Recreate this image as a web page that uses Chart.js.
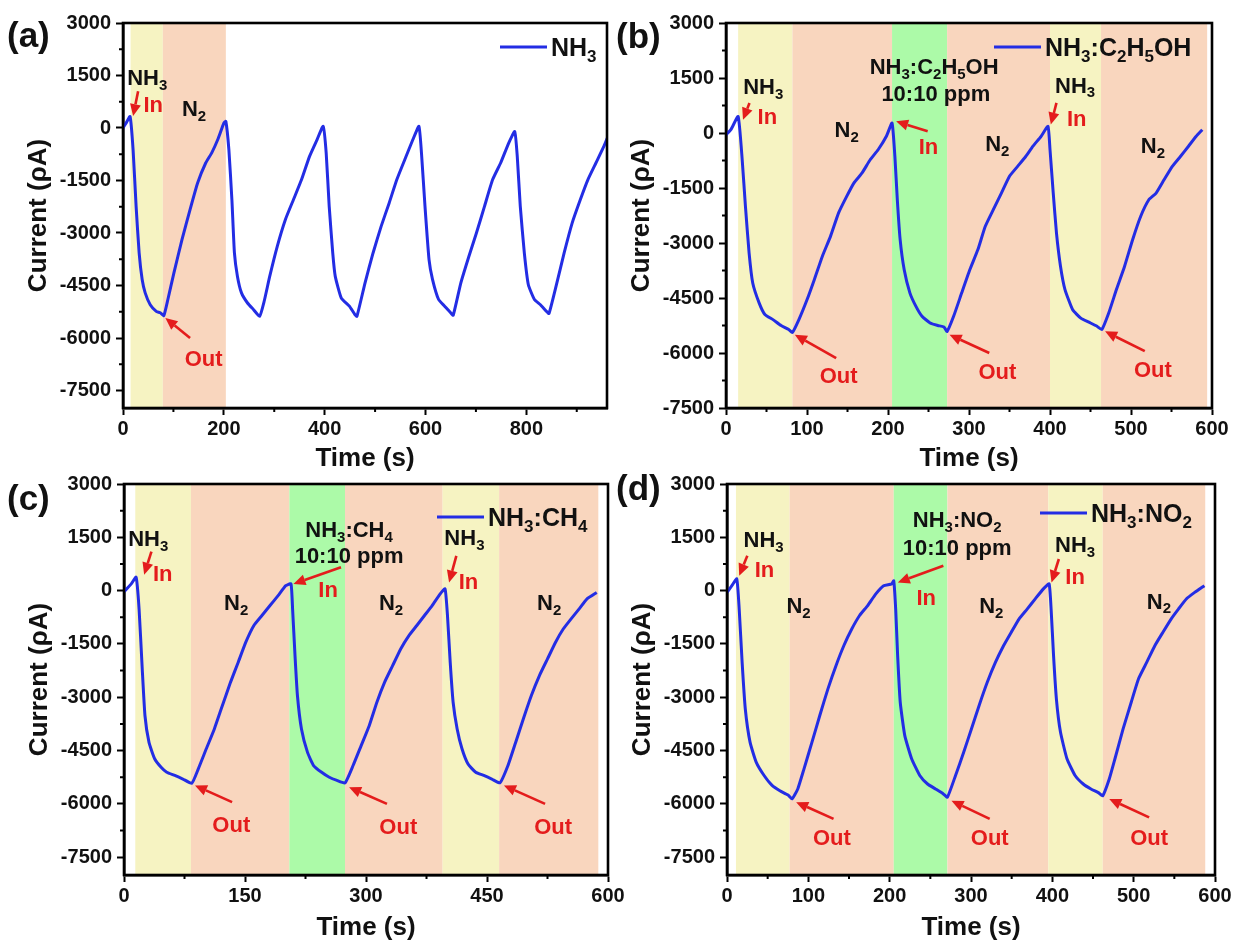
<!DOCTYPE html>
<html lang="en">
<head>
<meta charset="UTF-8">
<title>NH3 response cycles</title>
<script src="https://cdn.jsdelivr.net/npm/chart.js"></script>
<style>
  html, body { margin: 0; padding: 0; background: #fff; }
  #wrap { position: relative; width: 1235px; height: 943px; overflow: hidden; }
  #wrap canvas { position: absolute; left: 0; top: 0; }
</style>
</head>
<body>
<div id="wrap">
  <canvas id="chartA" width="1235" height="943"></canvas>
  <canvas id="chartB" width="1235" height="943"></canvas>
  <canvas id="chartC" width="1235" height="943"></canvas>
  <canvas id="chartD" width="1235" height="943"></canvas>
</div>
<script>
// ---- data ----
const yTicks = [-7500, -6000, -4500, -3000, -1500, 0, 1500, 3000];
const xTicksA = [0, 200, 400, 600, 800];
const xTicksB = [0, 100, 200, 300, 400, 500, 600];
const xTicksC = [0, 150, 300, 450, 600];
const xTicksD = [0, 100, 200, 300, 400, 500, 600];

// (a) NH3 only, five cycles
const timeA = [0,6,14,20,26,32,38,44,54,66,74,81,89,101,117,133,148,164,176,188,200,204,210,216,221,227,235,247,259,271,280,291,306,322,338,354,370,385,397,403,409,416,421,433,449,460,464,480,496,512,528,543,559,575,587,592,599,607,614,626,638,650,655,670,686,701,717,733,749,765,777,782,788,796,804,816,828,840,845,859,875,891,907,922,938,954,962];
const currentA = [0,140,330,-620,-2240,-3570,-4330,-4710,-5050,-5240,-5280,-5360,-4900,-4140,-3190,-2330,-1570,-1000,-710,-330,140,190,-620,-2050,-3570,-4240,-4710,-5000,-5190,-5380,-4950,-4240,-3380,-2620,-2050,-1480,-810,-330,50,-710,-2240,-3570,-4240,-4860,-5090,-5330,-5380,-4430,-3570,-2810,-2140,-1480,-900,-330,50,-710,-2240,-3760,-4330,-4900,-5090,-5280,-5350,-4430,-3670,-3000,-2240,-1480,-1000,-430,-100,-810,-2240,-3570,-4480,-4900,-5050,-5240,-5300,-4520,-3570,-2710,-2050,-1480,-1000,-520,-240];

// (b) NH3 / NH3:C2H5OH / NH3
const timeB = [0,6,15,20,24,28.5,33,41,48,58,68,77.5,82,90,100,109,119,129,139,149,158,168,178,188,198,205,208.5,211.5,215,220,227,234.5,242,252,261.5,269,273,281,291,301,311,320,330,340,350,360,370,379,389,397.5,400,404,408,413,418.5,428,438,448,458,464,472.5,482,492,502,512,522,531,541,551,561,571,580.5,588];
const currentB = [-50,90,450,-730,-2000,-3270,-4090,-4640,-4950,-5090,-5250,-5360,-5440,-5090,-4550,-4000,-3360,-2820,-2180,-1730,-1360,-1090,-730,-450,-90,270,-640,-1820,-2910,-3730,-4360,-4730,-5000,-5180,-5250,-5290,-5410,-5000,-4360,-3730,-3180,-2550,-2090,-1640,-1180,-910,-640,-360,-90,180,-450,-1640,-2730,-3640,-4270,-4820,-5050,-5160,-5270,-5360,-4910,-4270,-3640,-2910,-2270,-1820,-1640,-1270,-910,-640,-360,-90,90];

// (c) NH3 / NH3:CH4 / NH3
const timeC = [0,9,15,18.7,22.6,26,31,38,46,53,63,73,84,92,102,112,122,132,141.5,151,161,171,181,191,200.5,207,209,212,215,220,227.5,235,245,254.5,264,274,284,294,304,313.5,323,333,343,353,363,372.5,382,392,398,401,404.4,408,413,419,426.5,436,446,456,466,476,485.5,495,505,515,525,535,544.5,554,564,574,586];
const currentC = [-30,190,380,-520,-2200,-3520,-4270,-4730,-4970,-5110,-5200,-5300,-5420,-5020,-4450,-3890,-3230,-2580,-2020,-1450,-980,-700,-420,-140,140,190,-520,-1830,-2950,-3890,-4550,-4920,-5110,-5250,-5340,-5410,-4920,-4360,-3800,-3140,-2580,-2110,-1640,-1270,-980,-700,-420,-90,50,-700,-2020,-3140,-3890,-4450,-4880,-5110,-5200,-5300,-5410,-4920,-4270,-3610,-2950,-2390,-1920,-1450,-1080,-800,-520,-230,-50];

// (d) NH3 / NH3:NO2 / NH3
const timeD = [0,6,12,15,18.6,22.5,28.4,36,45.6,55.4,65,75,80,87,94.6,104.4,114,124,134,143.6,153.4,163,173,183,192.6,202.5,205,207.4,209.8,213,218.6,227,237,246.6,256.4,266,271,281,291,300.5,310,320,330,340,349.5,359,369,379,389,396,398.5,401.5,405,410,418,428,438,447.5,457,462,470,477,487,497,506,516,526,536,546,555,565,575,587];
const currentD = [-50,140,330,-520,-2020,-3330,-4270,-4830,-5200,-5480,-5630,-5750,-5860,-5580,-5020,-4270,-3520,-2770,-2110,-1550,-1080,-700,-420,-90,140,190,280,-520,-1830,-3140,-4080,-4730,-5200,-5440,-5580,-5720,-5810,-5200,-4550,-3890,-3230,-2580,-2020,-1550,-1170,-800,-520,-230,50,190,-520,-1830,-3050,-3980,-4730,-5200,-5440,-5580,-5690,-5770,-5300,-4730,-3890,-3140,-2480,-2020,-1550,-1170,-800,-520,-230,-50,140];

// gas exposure windows [start s, end s, gas]
const bandsA = [[15, 79, 'nh3'], [79, 204, 'n2']];
const bandsB = [[15, 82, 'nh3'], [82, 205, 'n2'], [205, 273, 'mix'], [273, 400, 'n2'], [400, 463, 'nh3'], [463, 594, 'n2']];
const bandsC = [[14, 83, 'nh3'], [83, 205, 'n2'], [205, 274, 'mix'], [274, 395, 'n2'], [395, 465, 'nh3'], [465, 588, 'n2']];
const bandsD = [[11, 77, 'nh3'], [77, 205, 'n2'], [205, 271, 'mix'], [271, 395, 'n2'], [395, 462, 'nh3'], [462, 588, 'n2']];

// text notes [time, current, text, kind]  ("_x" = subscript)
const notesA = [[48, 1450, 'NH_3', 'gas'], [60, 680, 'In', 'flow'], [141, 560, 'N_2', 'gas'], [160, -6570, 'Out', 'flow']];
const notesB = [
  [46, 1270, 'NH_3', 'gas'], [51, 450, 'In', 'flow'], [149, 100, 'N_2', 'gas'],
  [257, 1820, 'NH_3:C_2H_5OH', 'gas'], [259, 1090, '10:10 ppm', 'gas'], [250, -360, 'In', 'flow'],
  [335, -270, 'N_2', 'gas'], [431, 1320, 'NH_3', 'gas'], [433, 410, 'In', 'flow'], [527, -340, 'N_2', 'gas'],
  [139, -6590, 'Out', 'flow'], [335, -6500, 'Out', 'flow'], [527, -6450, 'Out', 'flow']
];
const notesC = [
  [30, 1480, 'NH_3', 'gas'], [48, 500, 'In', 'flow'], [139, -330, 'N_2', 'gas'],
  [279, 1730, 'NH_3:CH_4', 'gas'], [279, 1000, '10:10 ppm', 'gas'], [253, 50, 'In', 'flow'],
  [331, -330, 'N_2', 'gas'], [422, 1500, 'NH_3', 'gas'], [427, 280, 'In', 'flow'], [527, -330, 'N_2', 'gas'],
  [133, -6560, 'Out', 'flow'], [340, -6610, 'Out', 'flow'], [532, -6610, 'Out', 'flow']
];
const notesD = [
  [45, 1450, 'NH_3', 'gas'], [46, 610, 'In', 'flow'], [88, -420, 'N_2', 'gas'],
  [283, 2010, 'NH_3:NO_2', 'gas'], [283, 1220, '10:10 ppm', 'gas'], [245, -190, 'In', 'flow'],
  [325, -420, 'N_2', 'gas'], [428, 1310, 'NH_3', 'gas'], [428, 420, 'In', 'flow'], [531, -280, 'N_2', 'gas'],
  [129, -6940, 'Out', 'flow'], [323, -6940, 'Out', 'flow'], [519, -6940, 'Out', 'flow']
];

// arrows [tail time, tail current, head time, head current]
const arrowsA = [[30, 1050, 20, 340], [133, -6000, 84, -5430]];
const arrowsB = [[29, 820, 21, 360], [249, 45, 210, 320], [408, 820, 401, 230], [136, -6140, 85, -5500], [325, -6000, 276, -5500], [517, -5950, 468, -5410]];
const arrowsC = [[34, 1100, 25, 450], [269, 660, 210, 190], [412, 980, 403, 230], [134, -5950, 88, -5480], [326, -6000, 279, -5530], [522, -6000, 471, -5480]];
const arrowsD = [[25, 980, 15, 420], [266, 700, 210, 230], [408, 890, 399, 230], [131, -6420, 85, -5950], [323, -6420, 276, -5910], [519, -6380, 470, -5860]];

// ---- styling / layout ----
const FONT = '"Liberation Sans", Arial, Helvetica, sans-serif';
const BLUE = 'rgb(35,45,228)';
const RED = 'rgb(228,28,28)';
const bandColors = { nh3: 'rgb(246,243,194)', n2: 'rgb(249,214,190)', mix: 'rgb(172,250,168)' };

const panels = [
  { id: 'chartA', tag: '(a)', tagPos: [7, 37], time: timeA, current: currentA, bands: bandsA, notes: notesA, arrows: arrowsA,
    legend: 'NH_3', legendPos: [500, 47], xTicks: xTicksA, xMax: 960, xMinor: 100, yMin: -8000,
    box: { left: 123, top: 23, right: 607, bottom: 408 }, titleBottom: 472 },
  { id: 'chartB', tag: '(b)', tagPos: [616, 38], time: timeB, current: currentB, bands: bandsB, notes: notesB, arrows: arrowsB,
    legend: 'NH_3:C_2H_5OH', legendPos: [994, 47], xTicks: xTicksB, xMax: 600, xMinor: 50, yMin: -7500,
    box: { left: 726, top: 23, right: 1212, bottom: 408 }, titleBottom: 472 },
  { id: 'chartC', tag: '(c)', tagPos: [7, 500], time: timeC, current: currentC, bands: bandsC, notes: notesC, arrows: arrowsC,
    legend: 'NH_3:CH_4', legendPos: [437, 517], xTicks: xTicksC, xMax: 600, xMinor: 75, yMin: -8000,
    box: { left: 124, top: 484, right: 608, bottom: 875 }, titleBottom: 941 },
  { id: 'chartD', tag: '(d)', tagPos: [616, 490], time: timeD, current: currentD, bands: bandsD, notes: notesD, arrows: arrowsD,
    legend: 'NH_3:NO_2', legendPos: [1040, 513], xTicks: xTicksD, xMax: 600, xMinor: 50, yMin: -8000,
    box: { left: 727, top: 484, right: 1215, bottom: 875 }, titleBottom: 941 }
];

const Y_AXIS_W = 97;

// split "NH_3" style strings into normal / subscript runs
function runs(text) {
  const out = [];
  for (let i = 0; i < text.length; i++) {
    const sub = text[i] === '_';
    const ch = sub ? text[++i] : text[i];
    const last = out[out.length - 1];
    if (last && last.sub === sub) last.s += ch;
    else out.push({ s: ch, sub: sub });
  }
  return out;
}

function drawRich(ctx, text, x, y, size, color, align) {
  const main = `bold ${size}px ${FONT}`;
  const small = `bold ${Math.round(size * 0.66)}px ${FONT}`;
  const parts = runs(text);
  let w = 0;
  parts.forEach(p => { ctx.font = p.sub ? small : main; p.w = ctx.measureText(p.s).width; w += p.w; });
  let cx = align === 'left' ? x : x - w / 2;
  ctx.fillStyle = color;
  ctx.textBaseline = 'alphabetic';
  const base = y + size * 0.36;
  parts.forEach(p => {
    ctx.font = p.sub ? small : main;
    ctx.fillText(p.s, cx, p.sub ? base + size * 0.22 : base);
    cx += p.w;
  });
}

function drawArrow(ctx, x0, y0, x1, y1) {
  const ang = Math.atan2(y1 - y0, x1 - x0);
  const len = 12, half = 5.5;
  const bx = x1 - Math.cos(ang) * len, by = y1 - Math.sin(ang) * len;
  ctx.strokeStyle = RED;
  ctx.fillStyle = RED;
  ctx.lineWidth = 2.6;
  ctx.beginPath();
  ctx.moveTo(x0, y0);
  ctx.lineTo(bx, by);
  ctx.stroke();
  ctx.beginPath();
  ctx.moveTo(x1, y1);
  ctx.lineTo(bx + Math.sin(ang) * half, by - Math.cos(ang) * half);
  ctx.lineTo(bx - Math.sin(ang) * half, by + Math.cos(ang) * half);
  ctx.closePath();
  ctx.fill();
}

function decorPlugin(p) {
  return {
    id: 'decor',
    beforeDatasetsDraw(chart) {
      const { ctx, chartArea: a, scales: { x } } = chart;
      ctx.save();
      p.bands.forEach(([t0, t1, gas]) => {
        const x0 = x.getPixelForValue(t0), x1 = x.getPixelForValue(t1);
        ctx.fillStyle = bandColors[gas];
        ctx.fillRect(x0, a.top, x1 - x0, a.bottom - a.top);
      });
      ctx.restore();
    },
    afterDatasetsDraw(chart) {
      const { ctx, chartArea: a, scales: { x, y } } = chart;
      ctx.save();

      // frame
      ctx.strokeStyle = '#000';
      ctx.lineWidth = 2.6;
      ctx.strokeRect(a.left, a.top, a.right - a.left, a.bottom - a.top);

      // minor ticks
      ctx.lineWidth = 2;
      ctx.beginPath();
      for (let v = p.xMinor; v <= p.xMax; v += p.xMinor) {
        if (p.xTicks.includes(v)) continue;
        const px = x.getPixelForValue(v);
        ctx.moveTo(px, a.bottom); ctx.lineTo(px, a.bottom + 4);
      }
      for (let v = 3000 - 750; v >= p.yMin; v -= 750) {
        if (yTicks.includes(v)) continue;
        const py = y.getPixelForValue(v);
        ctx.moveTo(a.left, py); ctx.lineTo(a.left - 4, py);
      }
      ctx.stroke();

      // arrows and notes
      p.arrows.forEach(([t0, v0, t1, v1]) => {
        drawArrow(ctx, x.getPixelForValue(t0), y.getPixelForValue(v0), x.getPixelForValue(t1), y.getPixelForValue(v1));
      });
      p.notes.forEach(([t, v, text, kind]) => {
        drawRich(ctx, text, x.getPixelForValue(t), y.getPixelForValue(v), 22, kind === 'flow' ? RED : '#111', 'center');
      });

      // legend
      const [lx, ly] = p.legendPos;
      ctx.strokeStyle = BLUE;
      ctx.lineWidth = 3;
      ctx.beginPath();
      ctx.moveTo(lx, ly); ctx.lineTo(lx + 47, ly);
      ctx.stroke();
      drawRich(ctx, p.legend, lx + 51, ly, 25, '#111', 'left');

      // panel tag
      ctx.font = `bold 35px ${FONT}`;
      ctx.fillStyle = '#111';
      ctx.textBaseline = 'middle';
      ctx.fillText(p.tag, p.tagPos[0], p.tagPos[1]);
      ctx.restore();
    }
  };
}

function makeChart(p) {
  const b = p.box;
  const xAxisH = p.titleBottom - b.bottom;
  const tickFont = { family: FONT, size: 20, weight: 'bold' };
  const titleFont = { family: FONT, size: 26, weight: 'bold', lineHeight: 1 };
  new Chart(document.getElementById(p.id), {
    type: 'line',
    data: {
      datasets: [{
        data: p.time.map((t, i) => ({ x: t, y: p.current[i] })),
        borderColor: BLUE,
        borderWidth: 3,
        pointRadius: 0,
        tension: 0.15,
        fill: false
      }]
    },
    options: {
      responsive: false,
      animation: false,
      devicePixelRatio: 1,
      events: [],
      layout: {
        padding: { left: b.left - Y_AXIS_W, top: b.top, right: 1235 - b.right, bottom: 943 - p.titleBottom }
      },
      plugins: { legend: { display: false }, tooltip: { enabled: false } },
      scales: {
        x: {
          type: 'linear',
          min: 0,
          max: p.xMax,
          afterBuildTicks: s => { s.ticks = p.xTicks.map(v => ({ value: v })); },
          afterFit: s => { s.height = xAxisH; },
          ticks: { font: tickFont, color: '#111', padding: 2, autoSkip: false, maxRotation: 0, callback: v => String(v) },
          grid: { display: true, drawOnChartArea: false, tickLength: 7, tickWidth: 2, tickColor: '#000' },
          border: { display: true, width: 2.6, color: '#000' },
          title: { display: true, text: 'Time (s)', font: titleFont, color: '#111', padding: 0 }
        },
        y: {
          type: 'linear',
          min: p.yMin,
          max: 3000,
          afterBuildTicks: s => { s.ticks = yTicks.map(v => ({ value: v })); },
          afterFit: s => { s.width = Y_AXIS_W; },
          ticks: { font: tickFont, color: '#111', padding: 5, callback: v => String(v) },
          grid: { display: true, drawOnChartArea: false, tickLength: 7, tickWidth: 2, tickColor: '#000' },
          border: { display: true, width: 2.6, color: '#000' },
          title: { display: true, text: 'Current (\u03c1A)', font: titleFont, color: '#111', padding: 0 }
        }
      }
    },
    plugins: [decorPlugin(p)]
  });
}

panels.forEach(makeChart);
</script>
</body>
</html>
